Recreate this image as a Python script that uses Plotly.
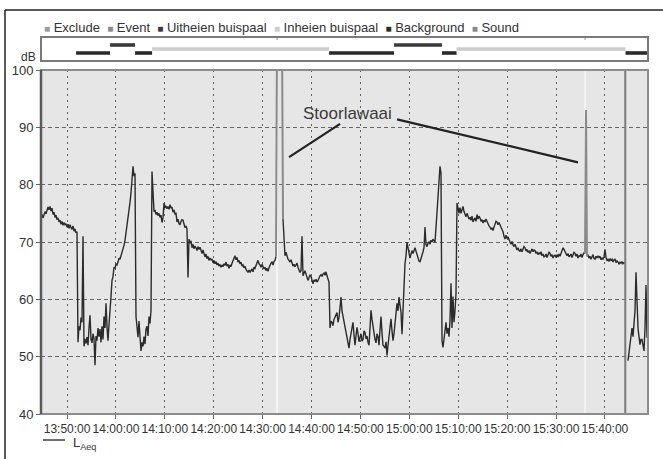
import pandas as pd
import plotly.graph_objects as go

# ---------------- data ----------------
measurement_date = "2010-06-01"
series_start = "13:44:40"
series_end = "15:48:49"

laeq = [
    # 13:44:40 ->
    74.4, 74.8, 74.2, 75.0, 75.3, 74.9, 75.8, 76.1, 75.6, 76.2, 75.4, 75.9, 74.8, 75.2, 74.3, 74.7,
    73.9, 74.2, 73.5, 73.8, 73.1, 73.6, 72.9, 73.4, 73.0, 73.2, 72.6, 73.1, 72.4, 73.0, 72.5, 72.2,
    72.8, 71.9, 72.3, 71.6, 71.8,
    # background
    52.5, 55.3, 54.6, 56.8, 56.0, 71.0, 51.8, 53.1, 52.3, 53.4, 52.0, 55.0, 57.2, 53.0, 52.4, 54.0,
    53.1, 48.5, 53.6, 52.8, 55.0, 53.5, 54.8, 52.5, 55.3, 53.0, 57.0, 55.0, 59.3, 55.2, 52.8, 55.6,
    57.5,
    # ramp
    60.5, 63.3, 64.0, 65.6, 65.4, 66.2, 66.0, 66.5, 67.2, 67.0, 67.6, 67.9, 68.5, 69.4, 70.3, 71.5,
    72.8, 74.2, 75.8, 76.9, 78.6, 80.5, 83.2, 81.5, 82.0,
    # background
    57.0, 55.5, 53.4, 56.2, 53.0, 51.0, 52.5, 51.8, 53.5, 52.2, 54.8, 55.3, 53.6, 57.0, 55.8, 58.0,
    # inheien
    82.3, 77.0, 75.3, 75.6, 74.8, 75.2, 74.6, 75.0, 74.3, 74.7, 73.4, 74.2, 76.8, 76.0, 76.3, 75.8,
    76.2, 75.7, 76.5, 75.9, 76.1, 75.2, 75.6, 74.9, 75.0, 73.5, 74.0, 73.2, 73.0, 73.6, 73.9, 73.8,
    72.9, 72.5, 72.8, 72.3,
    63.8, 70.5, 69.8, 70.2, 69.0, 69.6, 68.8, 69.3, 69.0, 68.5,
    69.2, 68.7, 69.1, 68.4, 68.0, 68.6, 67.8, 67.4, 67.9, 67.1,
    67.5, 66.8, 67.2, 66.9, 67.0, 66.4, 66.8, 66.2, 66.6, 66.0,
    66.3, 65.8, 66.1, 65.6, 66.0, 65.7, 66.2, 65.9, 66.5, 65.8,
    66.1, 65.4, 66.0, 65.7, 66.3, 66.8, 67.2, 67.6, 66.9, 67.3,
    66.5, 66.8, 66.2, 66.5, 65.8, 66.0, 65.5, 65.8, 65.2, 65.0,
    64.7, 65.1, 64.7, 65.0, 65.3, 64.8, 65.6, 65.4, 66.0, 66.4,
    66.8, 66.2, 66.0, 65.6, 66.1, 65.7, 65.3, 65.6, 65.0, 65.4,
    64.9, 65.5, 66.0, 66.3, 66.5, 66.0, 66.6, 66.8, 67.5,
    # excluded period (drawn separately)
    None, None, None, None, None, None,
    74.0, 69.0, 67.6, 68.2, 67.3, 67.0, 66.8, 66.5, 66.9, 66.2,
    65.8, 66.1, 65.7, 66.0, 66.3, 65.6, 65.2, 64.7, 65.0, 71.0,
    64.1, 64.6, 65.0, 64.4, 63.9, 63.3, 63.8, 64.2, 64.0, 63.2,
    62.7, 63.4, 63.1, 63.5, 63.0, 63.3, 63.8, 64.1, 64.3, 64.0,
    64.4, 64.6, 64.2, 64.8, 64.1, 63.5, 63.0,
    # background
    55.0, 56.2, 56.0, 55.4, 56.5, 56.9, 57.3, 57.7, 56.0, 56.8,
    58.5, 60.4, 58.0, 57.0, 56.2, 55.4, 54.3, 53.3, 52.6, 51.5,
    53.0, 54.0, 55.2, 56.0, 53.8, 52.0, 53.6, 55.1, 54.0, 52.6,
    53.3, 54.0, 52.7, 53.0, 54.5, 54.2, 53.1, 53.6, 52.5, 52.0,
    55.0, 58.1, 56.5, 55.0, 53.8, 53.0, 52.4, 54.0, 53.5, 52.0,
    54.6, 57.0, 54.2, 52.0, 51.8, 51.5, 52.6, 50.2, 52.0, 54.0,
    55.3, 56.6, 54.5, 52.8, 54.0, 56.0, 57.5, 59.3, 58.0, 60.4,
    59.0, 57.8, 53.9, 58.0,
    # uitheien
    65.0, 66.2, 67.6, 70.0, 69.0, 68.2, 67.2, 67.9, 68.5, 68.0,
    68.8, 69.0, 68.4, 67.8, 67.0, 66.7, 66.5, 67.0, 67.6, 68.3,
    69.0, 72.6, 69.5, 69.2, 69.8, 70.0, 69.6, 70.3, 70.0, 70.5,
    70.2, 70.0, 72.5, 75.0, 77.8, 80.5, 83.2, 82.0,
    # background
    52.8, 51.6, 53.0, 55.0, 56.0, 54.0, 55.0, 53.5, 56.3, 62.8, 55.0, 60.5, 56.0, 58.0, 61.0,
    # inheien
    76.8, 75.5, 75.0, 76.0, 75.0, 75.6, 76.2, 75.3, 74.8, 74.4,
    75.0, 74.6, 74.0, 74.3, 73.8, 74.5, 73.5, 73.9, 74.2, 73.6,
    74.8, 74.0, 74.5, 74.2, 73.6, 73.9, 73.3, 73.8, 73.5, 74.0,
    73.6, 73.0, 72.8, 72.6, 72.2, 72.5, 72.0, 72.6, 73.2, 73.6,
    73.5, 73.0, 73.4, 73.0, 72.4, 72.0, 71.8, 71.0, 70.5, 71.2,
    70.6, 70.9, 70.2, 70.0, 69.6, 70.1, 69.5, 69.2, 69.6, 68.9,
    68.6, 69.0, 68.5, 68.4, 68.8, 68.3, 68.9, 69.2, 69.0, 68.4,
    68.7, 68.2, 68.5, 68.0, 68.4, 68.8, 68.3, 68.6, 68.5, 68.0,
    68.3, 67.8, 68.1, 67.9, 68.3, 67.6, 67.9, 67.4, 67.5, 67.9,
    67.3, 67.7, 68.2, 68.0, 67.5, 67.8, 67.2, 67.6, 67.7, 67.3,
    67.8, 67.4, 67.9, 67.5, 68.0, 68.6, 69.0, 68.7, 68.4, 68.1,
    67.6, 68.0, 67.4, 67.6, 67.9, 67.3, 67.8, 68.2, 68.0, 67.5,
    67.9, 67.2, 67.6, 67.5, 67.9, 67.3, 67.8, 68.1, 68.0, None,
    67.5, 67.8, 67.2, 67.5, 67.0, 67.4, 67.8, 67.1, 67.0, 67.5,
    67.2, 67.6, 67.3, 67.5, 66.9, 67.2, 67.0, 67.4, 68.7, 67.3,
    66.8, 67.0, 66.6, 67.1, 66.8, 67.0, 66.5, 66.9, 67.0, 66.4,
    66.7, 66.5, 66.2, 66.5, 66.3, 66.6, 66.2, 66.4, 66.3,
    None, None,
    # background
    49.3, 51.0, 52.8, 54.0, 55.0, 53.5, 55.2, 58.0, 64.7, 58.5, 55.0, 53.5, 52.1, 53.0, 53.0, 52.0,
    51.0, 55.0, 62.5, 53.3, 58.0,
]

# excluded measurement parts (disturbances, "Stoorlawaai")
exclude_times = ["14:32:44", "14:32:56", "14:33:58", "14:34:10", None, "15:35:56", "15:36:08", "15:36:20"]
exclude_laeq = [67.5, 105.0, 105.0, 74.0, None, 68.0, 93.0, 67.5]
exclude_start = ["14:32:50", "15:35:50"]
exclude_end = ["14:33:04", "15:36:02"]
separator_time = "15:44:10"

# event strip
event_categories = ["Exclude", "Event", "Uitheien buispaal", "Inheien buispaal", "Background", "Sound"]
event_colors = ["#9a9a9a", "#8a8a8a", "#3a3a3a", "#cdcdcd", "#2a2a2a", "#8a8a8a"]
segment_category = ["Background", "Uitheien buispaal", "Background", "Inheien buispaal", "Background",
                    "Uitheien buispaal", "Background", "Inheien buispaal", "Background"]
segment_start = ["13:51:50", "13:58:47", "14:03:54", "14:07:23", "14:43:35",
                 "14:56:52", "15:06:41", "15:09:39", "15:44:13"]
segment_end = ["13:58:47", "14:03:54", "14:07:23", "14:43:35", "14:56:52",
               "15:06:41", "15:09:39", "15:44:13", "15:48:49"]

tick_labels = ["13:50:00", "14:00:00", "14:10:00", "14:20:00", "14:30:00", "14:40:00",
               "14:50:00", "15:00:00", "15:10:00", "15:20:00", "15:30:00", "15:40:00"]
y_ticks = [40, 50, 60, 70, 80, 90, 100]

annotation_text = "Stoorlawaai"
series_name = "L<sub>Aeq</sub>"

# ---------------- build ----------------
def ts(t):
    return None if t is None else pd.Timestamp(f"{measurement_date} {t}")

times = pd.date_range(ts(series_start), ts(series_end), periods=len(laeq))

FONT = "Liberation Sans, Arial, sans-serif"
fig = go.Figure()

fig.add_trace(go.Scatter(x=times, y=laeq, mode="lines", name="LAeq",
                         line=dict(color="#2b2b2b", width=1.4), xaxis="x", yaxis="y",
                         hoverinfo="skip"))
fig.add_trace(go.Scatter(x=[ts(t) for t in exclude_times], y=exclude_laeq, mode="lines",
                         line=dict(color="#8a8a8a", width=2), xaxis="x", yaxis="y",
                         hoverinfo="skip"))

# strip traces
for ci, cat in enumerate(event_categories):
    row = len(event_categories) - 1 - ci
    xs, ys = [], []
    if cat == "Exclude":
        pairs = list(zip(exclude_start, exclude_end))
    else:
        pairs = [(s, e) for c, s, e in zip(segment_category, segment_start, segment_end) if c == cat]
    for s, e in pairs:
        xs += [ts(s), ts(e), None]
        ys += [row, row, None]
    if xs:
        fig.add_trace(go.Scatter(x=xs, y=ys, mode="lines", xaxis="x2", yaxis="y2",
                                 line=dict(color=event_colors[ci], width=6 if cat == "Exclude" else 3.6),
                                 hoverinfo="skip"))

L, R, T, B = 41, 15, 37, 45
W, H = 663, 459
pw, ph = W - L - R, H - T - B
def px(x):
    return (x - L) / pw
def py(y):
    return (H - B - y) / ph

main_top = py(70)
strip_bottom = py(61)

fig.update_layout(
    width=W, height=H, margin=dict(l=L, r=R, t=T, b=B, autoexpand=False),
    paper_bgcolor="white", plot_bgcolor="white", showlegend=False,
    font=dict(family=FONT, color="#333333", size=12),
    xaxis=dict(domain=[0, 1], anchor="y", type="date", automargin=False,
               range=[ts(series_start), ts(series_end)],
               tickvals=[ts(t) for t in tick_labels], ticktext=tick_labels, tickangle=0,
               ticks="outside", ticklen=4, tickcolor="#666", tickwidth=1,
               tickfont=dict(size=12, color="#333"),
               showgrid=True, gridcolor="#5e5e5e", gridwidth=1.4, griddash="2px,4px",
               showline=False, zeroline=False),
    yaxis=dict(domain=[0, main_top], anchor="x", range=[40, 100], tickvals=y_ticks, automargin=False,
               ticks="outside", ticklen=4, tickcolor="#666",
               tickfont=dict(size=13, color="#333"),
               showgrid=True, gridcolor="#666666", gridwidth=1.4, griddash="4px,3px",
               showline=False, zeroline=False),
    xaxis2=dict(domain=[0, 1], anchor="y2", matches="x", showgrid=False, showticklabels=False,
                ticks="", showline=False, zeroline=False, automargin=False),
    yaxis2=dict(domain=[strip_bottom, 1], anchor="x2", range=[-1, 5], showgrid=False,
                showticklabels=False, ticks="", showline=False, zeroline=False, automargin=False),
)

shapes = []
# plot background
shapes.append(dict(type="rect", xref="x domain", yref="y domain", x0=0, x1=1, y0=0, y1=1,
                   fillcolor="#e6e6e6", line=dict(width=0), layer="below"))
# excluded periods
for s, e in zip(exclude_start, exclude_end):
    shapes.append(dict(type="rect", xref="x", yref="y domain", x0=ts(s), x1=ts(e), y0=0, y1=1,
                       fillcolor="white", line=dict(width=0), layer="below"))
# end-of-measurement marker
shapes.append(dict(type="line", xref="x", yref="y domain", x0=ts(separator_time), x1=ts(separator_time),
                   y0=0, y1=1, line=dict(color="#7a7a7a", width=2)))
# frames
shapes.append(dict(type="rect", xref="x domain", yref="y domain", x0=0, x1=1, y0=0, y1=1,
                   line=dict(color="#8c8c8c", width=2)))
shapes.append(dict(type="line", xref="x domain", yref="y domain", x0=0, x1=0, y0=0, y1=1,
                   line=dict(color="#5a5a5a", width=2.5)))
shapes.append(dict(type="rect", xref="paper", yref="paper", x0=0, x1=1, y0=strip_bottom, y1=1,
                   line=dict(color="#7a7a7a", width=2)))
# pointer lines
shapes.append(dict(type="line", xref="x", yref="y", x0=ts("14:35:24"), y0=84.8, x1=ts("14:45:50"), y1=90.6,
                   line=dict(color="#222", width=2.2)))
shapes.append(dict(type="line", xref="x", yref="y", x0=ts("14:57:29"), y0=91.4, x1=ts("15:34:30"), y1=83.9,
                   line=dict(color="#222", width=2.2)))
# outer frame
shapes.append(dict(type="line", xref="paper", yref="paper", x0=px(5), x1=px(5), y0=py(10), y1=py(H + 2),
                   line=dict(color="#222", width=1.5)))
shapes.append(dict(type="line", xref="paper", yref="paper", x0=px(5), x1=px(W + 2), y0=py(10), y1=py(10),
                   line=dict(color="#222", width=1.5)))
# bottom legend line
shapes.append(dict(type="line", xref="paper", yref="paper", x0=px(43), x1=px(65), y0=py(440), y1=py(440),
                   line=dict(color="#222", width=1.3)))
fig.update_layout(shapes=shapes)

NB = "\u00a0"
legend_parts = []
for cat, col in zip(event_categories, event_colors):
    legend_parts.append(f'<span style="color:{col};font-size:10px">■</span>{NB}{cat}')
legend_text = (NB * 2).join(legend_parts)

annotations = [
    dict(text=legend_text, xref="paper", yref="paper", x=px(42), y=py(28), xanchor="left", yanchor="middle",
         showarrow=False, font=dict(size=13, color="#333", family=FONT)),
    dict(text="dB", xref="paper", yref="paper", x=px(28), y=py(57), xanchor="center", yanchor="middle",
         showarrow=False, font=dict(size=12, color="#333", family=FONT)),
    dict(text=annotation_text, xref="x", yref="y", x=ts("14:47:16"), y=92.5, xanchor="center",
         yanchor="middle", showarrow=False, font=dict(size=17, color="#3a3a3a", family=FONT)),
    dict(text=series_name, xref="paper", yref="paper", x=px(71), y=py(443), xanchor="left",
         yanchor="middle", showarrow=False, font=dict(size=13, color="#333", family=FONT)),
]
fig.update_layout(annotations=annotations)

fig.write_html("out.html", config={"displayModeBar": False},
               post_script="document.body.style.margin='0px';")
